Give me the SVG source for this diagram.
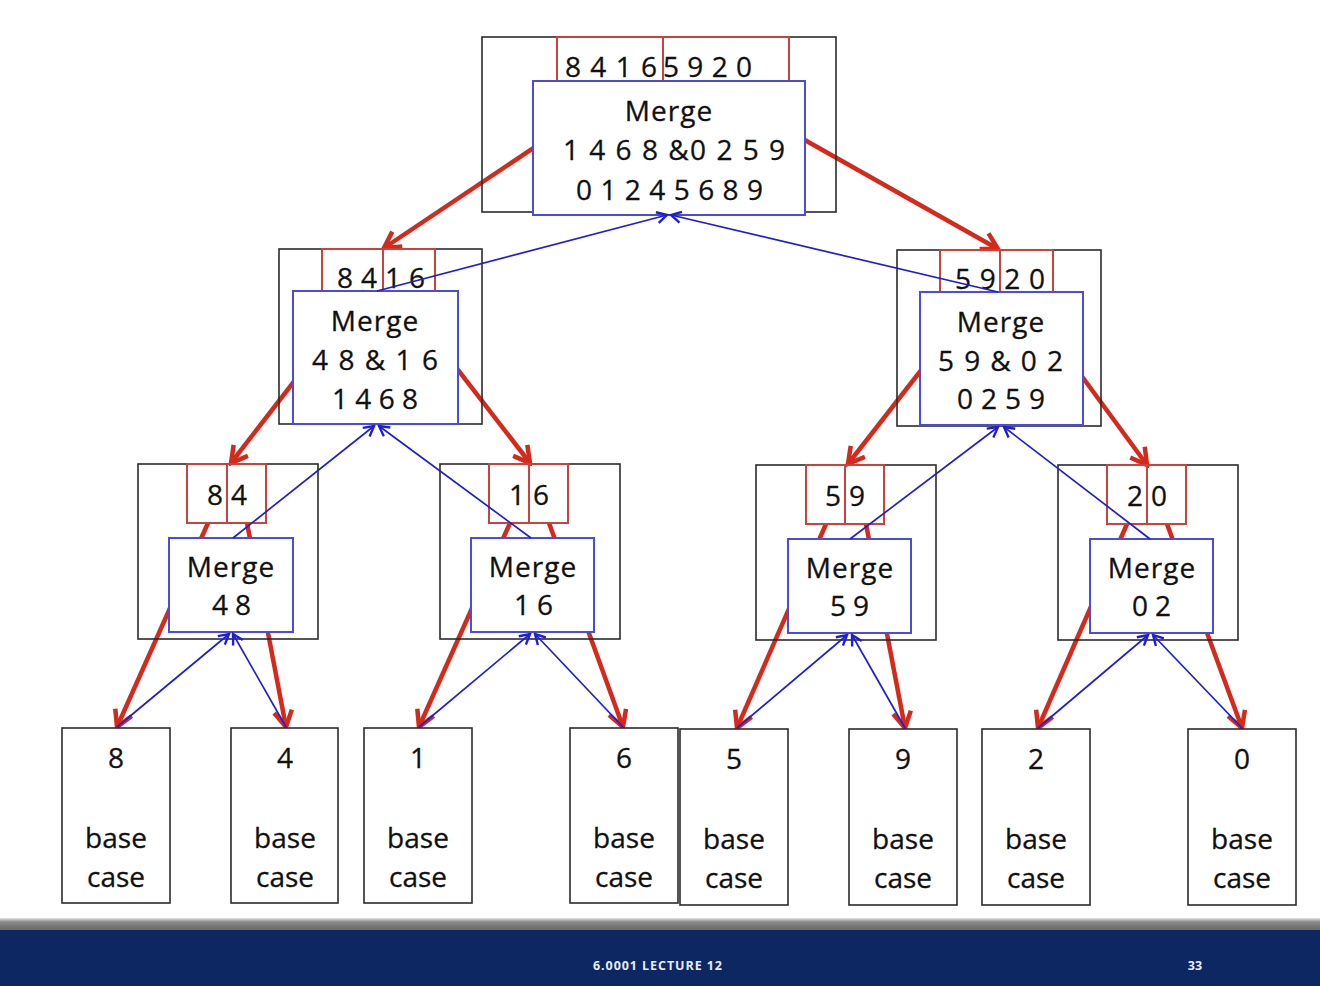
<svg xmlns="http://www.w3.org/2000/svg" width="1320" height="986" viewBox="0 0 1320 986">
<defs>
<marker id="redHead" viewBox="0 0 22 22" refX="19" refY="11" markerWidth="22" markerHeight="22" markerUnits="userSpaceOnUse" orient="auto">
<path d="M3,2 L19,11 L3,20" fill="none" stroke="#d42a1c" stroke-width="4.5" stroke-linejoin="miter"/>
</marker>
<marker id="blueHead" viewBox="0 0 14 14" refX="12" refY="7" markerWidth="14" markerHeight="14" markerUnits="userSpaceOnUse" orient="auto">
<path d="M2,1.5 L12,7 L2,12.5" fill="none" stroke="#1f1fd0" stroke-width="2.4"/>
</marker>
<linearGradient id="band" x1="0" y1="0" x2="0" y2="1">
<stop offset="0" stop-color="#e4e4e4"/>
<stop offset="0.3" stop-color="#8a8a8a"/>
<stop offset="0.8" stop-color="#6e6e6e"/>
<stop offset="1" stop-color="#5a6a88"/>
</linearGradient>
</defs>
<style>
.outer{fill:none;stroke:#2b2b2b;stroke-width:1.6}
.rbox{fill:none;stroke:#c8433b;stroke-width:2}
.bbox{fill:#ffffff;stroke:#4b4be0;stroke-width:2}
.leaf{fill:#ffffff;stroke:#2b2b2b;stroke-width:1.6}
text{font-family:"Open Sans","Liberation Sans",sans-serif;font-size:28px;fill:#111111;stroke:#111111;stroke-width:0.3;text-anchor:middle}
.num{text-anchor:start}
.red{fill:none;stroke:#d42a1c;stroke-width:4.5;marker-end:url(#redHead)}
.blue{fill:none;stroke:#1f1fd0;stroke-width:1.7;marker-end:url(#blueHead)}
.foot{font-size:12.5px;fill:#e8edf5;stroke:none;font-weight:bold}
</style>
<rect width="1320" height="986" fill="#ffffff"/>

<g id="connectors-split">
<line class="red" x1="632" y1="82" x2="384" y2="248"/>
<line class="red" x1="702" y1="82" x2="998" y2="249"/>
<line class="red" x1="364" y1="291" x2="231" y2="463"/>
<line class="red" x1="397" y1="291" x2="530" y2="463"/>
<line class="red" x1="982" y1="292" x2="848" y2="464"/>
<line class="red" x1="1020" y1="292" x2="1147" y2="465"/>
<line class="red" x1="208" y1="523" x2="117" y2="727"/>
<line class="red" x1="247" y1="523" x2="286" y2="727"/>
<line class="red" x1="510" y1="523" x2="419" y2="727"/>
<line class="red" x1="549" y1="523" x2="623" y2="727"/>
<line class="red" x1="826" y1="524" x2="737" y2="728"/>
<line class="red" x1="866" y1="524" x2="905" y2="728"/>
<line class="red" x1="1127" y1="524" x2="1038" y2="728"/>
<line class="red" x1="1167" y1="524" x2="1242" y2="728"/>
</g>

<g id="node-top">
<rect class="outer" x="482" y="37" width="354" height="175"/>
<rect class="rbox" x="557" y="37" width="106" height="45"/>
<rect class="rbox" x="663" y="37" width="126" height="45"/>
<text class="num" x="565" y="77" textLength="92" lengthAdjust="spacing">8 4 1 6</text>
<text class="num" x="663" y="77" textLength="89" lengthAdjust="spacing">5 9 2 0</text>
<rect class="bbox" x="533" y="81" width="272" height="134"/>
<text x="669" y="121" letter-spacing="1">Merge</text>
<text class="num" x="563" y="160" textLength="222" lengthAdjust="spacing">1 4 6 8 &amp;0 2 5 9</text>
<text class="num" x="576" y="200" textLength="187" lengthAdjust="spacing">0 1 2 4 5 6 8 9</text>
</g>

<g id="node-8416">
<rect class="outer" x="279" y="249" width="203" height="175"/>
<rect class="rbox" x="322" y="249" width="61" height="42"/>
<rect class="rbox" x="383" y="249" width="52" height="42"/>
<text class="num" x="337" y="288" textLength="88" lengthAdjust="spacing">8 4 1 6</text>
<rect class="bbox" x="293" y="291" width="165" height="133"/>
<text x="375" y="331" letter-spacing="1">Merge</text>
<text class="num" x="312" y="370" textLength="126" lengthAdjust="spacing">4 8  &amp; 1 6</text>
<text class="num" x="332" y="409" textLength="86" lengthAdjust="spacing">1 4 6 8</text>
</g>

<g id="node-5920">
<rect class="outer" x="897" y="250" width="204" height="176"/>
<rect class="rbox" x="940" y="250" width="60" height="42"/>
<rect class="rbox" x="1000" y="250" width="53" height="42"/>
<text class="num" x="955" y="289" textLength="90" lengthAdjust="spacing">5 9 2 0</text>
<rect class="bbox" x="920" y="292" width="163" height="133"/>
<text x="1001" y="332" letter-spacing="1">Merge</text>
<text class="num" x="938" y="371" textLength="125" lengthAdjust="spacing">5 9  &amp; 0 2</text>
<text class="num" x="957" y="409" textLength="88" lengthAdjust="spacing">0 2 5 9</text>
</g>

<g id="node-84">
<rect class="outer" x="138" y="464" width="180" height="175"/>
<rect class="rbox" x="187" y="464" width="40" height="59"/>
<rect class="rbox" x="227" y="464" width="39" height="59"/>
<text class="num" x="207" y="505" textLength="40" lengthAdjust="spacing">8 4</text>
<rect class="bbox" x="169" y="538" width="124" height="94"/>
<text x="231" y="577" letter-spacing="1">Merge</text>
<text class="num" x="212" y="615" textLength="39" lengthAdjust="spacing">4 8</text>
</g>

<g id="node-16">
<rect class="outer" x="440" y="464" width="180" height="175"/>
<rect class="rbox" x="489" y="464" width="40" height="59"/>
<rect class="rbox" x="529" y="464" width="39" height="59"/>
<text class="num" x="509" y="505" textLength="40" lengthAdjust="spacing">1 6</text>
<rect class="bbox" x="471" y="538" width="123" height="94"/>
<text x="533" y="577" letter-spacing="1">Merge</text>
<text class="num" x="514" y="615" textLength="39" lengthAdjust="spacing">1 6</text>
</g>

<g id="node-59">
<rect class="outer" x="756" y="465" width="180" height="175"/>
<rect class="rbox" x="806" y="465" width="39" height="59"/>
<rect class="rbox" x="845" y="465" width="39" height="59"/>
<text class="num" x="825" y="506" textLength="40" lengthAdjust="spacing">5 9</text>
<rect class="bbox" x="788" y="539" width="123" height="94"/>
<text x="850" y="578" letter-spacing="1">Merge</text>
<text class="num" x="830" y="616" textLength="39" lengthAdjust="spacing">5 9</text>
</g>

<g id="node-20">
<rect class="outer" x="1058" y="465" width="180" height="175"/>
<rect class="rbox" x="1107" y="465" width="40" height="59"/>
<rect class="rbox" x="1147" y="465" width="39" height="59"/>
<text class="num" x="1127" y="506" textLength="40" lengthAdjust="spacing">2 0</text>
<rect class="bbox" x="1090" y="539" width="123" height="94"/>
<text x="1152" y="578" letter-spacing="1">Merge</text>
<text class="num" x="1132" y="616" textLength="39" lengthAdjust="spacing">0 2</text>
</g>

<g id="leaf-8">
<rect class="leaf" x="62" y="728" width="108" height="175"/>
<text x="116" y="768">8</text><text x="116" y="848">base</text><text x="116" y="887">case</text>
</g>
<g id="leaf-4">
<rect class="leaf" x="231" y="728" width="107" height="175"/>
<text x="285" y="768">4</text><text x="285" y="848">base</text><text x="285" y="887">case</text>
</g>
<g id="leaf-1">
<rect class="leaf" x="364" y="728" width="108" height="175"/>
<text x="418" y="768">1</text><text x="418" y="848">base</text><text x="418" y="887">case</text>
</g>
<g id="leaf-6">
<rect class="leaf" x="570" y="728" width="108" height="175"/>
<text x="624" y="768">6</text><text x="624" y="848">base</text><text x="624" y="887">case</text>
</g>
<g id="leaf-5">
<rect class="leaf" x="680" y="729" width="108" height="176"/>
<text x="734" y="769">5</text><text x="734" y="849">base</text><text x="734" y="888">case</text>
</g>
<g id="leaf-9">
<rect class="leaf" x="849" y="729" width="108" height="176"/>
<text x="903" y="769">9</text><text x="903" y="849">base</text><text x="903" y="888">case</text>
</g>
<g id="leaf-2">
<rect class="leaf" x="982" y="729" width="108" height="176"/>
<text x="1036" y="769">2</text><text x="1036" y="849">base</text><text x="1036" y="888">case</text>
</g>
<g id="leaf-0">
<rect class="leaf" x="1188" y="729" width="108" height="176"/>
<text x="1242" y="769">0</text><text x="1242" y="849">base</text><text x="1242" y="888">case</text>
</g>

<g id="connectors-merge">
<line class="blue" x1="377" y1="291" x2="667" y2="215"/>
<line class="blue" x1="998" y1="292" x2="671" y2="215"/>
<line class="blue" x1="233" y1="538" x2="374" y2="426"/>
<line class="blue" x1="531" y1="538" x2="379" y2="426"/>
<line class="blue" x1="850" y1="539" x2="998" y2="427"/>
<line class="blue" x1="1150" y1="539" x2="1004" y2="427"/>
<line class="blue" x1="117" y1="727" x2="229" y2="634"/>
<line class="blue" x1="286" y1="727" x2="233" y2="634"/>
<line class="blue" x1="419" y1="727" x2="530" y2="634"/>
<line class="blue" x1="623" y1="727" x2="535" y2="634"/>
<line class="blue" x1="737" y1="728" x2="847" y2="635"/>
<line class="blue" x1="905" y1="728" x2="852" y2="635"/>
<line class="blue" x1="1038" y1="728" x2="1148" y2="635"/>
<line class="blue" x1="1242" y1="728" x2="1153" y2="635"/>
</g>

<g id="footer">
<rect x="0" y="918" width="1320" height="13" fill="url(#band)"/>
<rect x="0" y="930" width="1320" height="56" fill="#0c2762"/>
<text class="foot" x="593" y="970" style="text-anchor:start" textLength="129" lengthAdjust="spacing">6.0001 LECTURE 12</text>
<text class="foot" x="1195" y="970">33</text>
</g>
</svg>
